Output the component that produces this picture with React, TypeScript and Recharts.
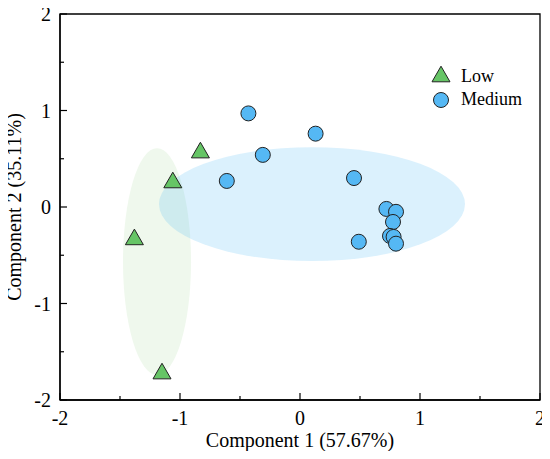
import React from "react";
import {
  ScatterChart,
  Scatter,
  XAxis,
  YAxis,
  ReferenceArea,
  Legend,
} from "recharts";

const lowX = [-0.83, -1.06, -1.38, -1.15];
const lowY = [0.59, 0.28, -0.31, -1.7];
const medX = [-0.43, 0.13, -0.31, -0.61, 0.45, 0.72, 0.8, 0.775, 0.75, 0.78, 0.8, 0.49];
const medY = [0.97, 0.76, 0.54, 0.27, 0.3, -0.02, -0.05, -0.155, -0.3, -0.31, -0.38, -0.36];

// ellipse bounds [xmin, xmax, ymin, ymax]
const lowEllipse = [-1.475, -0.908, -1.74, 0.61];
const medEllipse = [-1.175, 1.375, -0.56, 0.62];

const axisTicks = [-2, -1.5, -1, -0.5, 0, 0.5, 1, 1.5, 2];
const seriesNames = ["Low", "Medium"];

const lowData = lowX.map((x, i) => ({ x, y: lowY[i] }));
const medData = medX.map((x, i) => ({ x, y: medY[i] }));

const FONT = "Liberation Serif";
const LOW_FILL = "#66c566";
const MED_FILL = "#55b8f4";
const STROKE = "#222";

const Triangle = ({ cx, cy }: any) => (
  <polygon
    points={`${cx},${cy - 7.8} ${cx + 9},${cy + 7.8} ${cx - 9},${cy + 7.8}`}
    fill={LOW_FILL}
    stroke={STROKE}
    strokeWidth={1}
  />
);

const Dot = ({ cx, cy }: any) => (
  <circle cx={cx} cy={cy} r={7.5} fill={MED_FILL} stroke={STROKE} strokeWidth={1} />
);

const YTick = (props: any) => {
  const { x, y, payload } = props;
  const v = payload.value;
  const major = Number.isInteger(v);
  return (
    <g>
      <line x1={x} x2={x + (major ? 7 : 4)} y1={y} y2={y} stroke="#000" strokeWidth={1.2} />
      {major && (
        <text x={x - 9} y={y + 7} textAnchor="end" fontFamily={FONT} fontSize={20} fill="#000">
          {String(v)}
        </text>
      )}
    </g>
  );
};

const XTick = (props: any) => {
  const { x, y, payload } = props;
  const v = payload.value;
  const major = Number.isInteger(v);
  return (
    <g>
      <line x1={x} x2={x} y1={y} y2={y - (major ? 7 : 4)} stroke="#000" strokeWidth={1.2} />
      {major && (
        <text x={x} y={y + 25} textAnchor="middle" fontFamily={FONT} fontSize={20} fill="#000">
          {String(v)}
        </text>
      )}
    </g>
  );
};

const EllipseShape = (fill: string, opacity: number) => (p: any) => (
  <ellipse
    cx={p.x + p.width / 2}
    cy={p.y + p.height / 2}
    rx={Math.abs(p.width) / 2}
    ry={Math.abs(p.height) / 2}
    fill={fill}
    fillOpacity={opacity}
    stroke="none"
  />
);

const LegendContent = () => (
  <svg width={120} height={56} style={{ display: "block" }}>
    <Triangle cx={16} cy={14} />
    <text x={36} y={22} fontFamily={FONT} fontSize={18} fill="#000">
      {seriesNames[0]}
    </text>
    <Dot cx={16} cy={40} />
    <text x={36} y={45} fontFamily={FONT} fontSize={18} fill="#000">
      {seriesNames[1]}
    </text>
  </svg>
);

export default function App() {
  return (
    <div style={{ margin: "-8px", width: 550, height: 459, background: "#fff" }}>
      <ScatterChart
        width={550}
        height={459}
        margin={{ top: 14, right: 10, bottom: 0, left: 0 }}
      >
        <XAxis
          type="number"
          dataKey="x"
          domain={[-2, 2]}
          ticks={axisTicks}
          interval={0}
          tickSize={0}
          tickMargin={0}
          tickLine={false}
          tick={<XTick />}
          height={59}
          axisLine={{ stroke: "#000", strokeWidth: 1.3 }}
          allowDataOverflow
          label={{
            content: ({ viewBox }: any) => (
              <text
                x={viewBox.x + viewBox.width / 2}
                y={viewBox.y + 46.5}
                textAnchor="middle"
                fontFamily={FONT}
                fontSize={20}
                fill="#000"
              >
                Component 1 (57.67%)
              </text>
            ),
          }}
        />
        <YAxis
          type="number"
          dataKey="y"
          domain={[-2, 2]}
          ticks={axisTicks}
          interval={0}
          tickSize={0}
          tickMargin={0}
          tickLine={false}
          tick={<YTick />}
          width={60}
          axisLine={{ stroke: "#000", strokeWidth: 1.3 }}
          allowDataOverflow
          label={{
            content: ({ viewBox }: any) => {
              const cy = viewBox.y + viewBox.height / 2;
              return (
                <text
                  x={21}
                  y={cy}
                  transform={`rotate(-90, 21, ${cy})`}
                  textAnchor="middle"
                  fontFamily={FONT}
                  fontSize={20}
                  fill="#000"
                >
                  Component 2 (35.11%)
                </text>
              );
            },
          }}
        />
        <ReferenceArea
          x1={lowEllipse[0]}
          x2={lowEllipse[1]}
          y1={lowEllipse[2]}
          y2={lowEllipse[3]}
          shape={EllipseShape("#7cc86a", 0.12)}
        />
        <ReferenceArea
          x1={medEllipse[0]}
          x2={medEllipse[1]}
          y1={medEllipse[2]}
          y2={medEllipse[3]}
          shape={EllipseShape("#4db8f5", 0.2)}
        />
        <ReferenceArea
          x1={-2}
          x2={2}
          y1={-2}
          y2={2}
          fill="none"
          fillOpacity={0}
          stroke="#000"
          strokeWidth={1.3}
        />
        <Scatter
          name={seriesNames[0]}
          data={lowData}
          shape={<Triangle />}
          isAnimationActive={false}
        />
        <Scatter
          name={seriesNames[1]}
          data={medData}
          shape={<Dot />}
          isAnimationActive={false}
        />
        <Legend
          layout="vertical"
          align="center"
          verticalAlign="middle"
          wrapperStyle={{ left: 425, top: 60, width: 120 }}
          content={<LegendContent />}
        />
      </ScatterChart>
    </div>
  );
}
